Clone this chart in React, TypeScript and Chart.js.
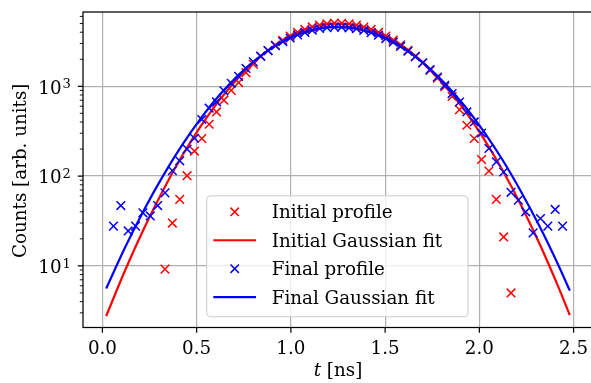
import React, { useEffect, useRef } from "react";
import { Chart, registerables } from "chart.js";

Chart.register(...registerables);

// ---- data ----
const tInitial = [
  0.332, 0.3711, 0.4102, 0.4492, 0.4883, 0.5273, 0.5664, 0.6055, 0.6445, 0.6836,
  0.7227, 0.7617, 0.8008, 0.8398, 0.8789, 0.918, 0.957, 0.9961, 1.0352, 1.0742,
  1.1133, 1.1523, 1.1914, 1.2305, 1.2695, 1.3086, 1.3477, 1.3867, 1.4258, 1.4648,
  1.5039, 1.543, 1.582, 1.6211, 1.6602, 1.6992, 1.7383, 1.7773, 1.8164, 1.8555,
  1.8945, 1.9336, 1.9727, 2.0117, 2.0508, 2.0898, 2.1289, 2.168,
];
const countsInitial = [
  9.2, 30, 55, 101, 190, 262, 378, 518, 700, 900,
  1100, 1420, 1760, 2150, 2500, 2870, 3250, 3620, 3980, 4300,
  4580, 4800, 4950, 5050, 5020, 4960, 4800, 4560, 4300, 3980,
  3630, 3260, 2890, 2510, 2150, 1810, 1500, 1230, 990, 770,
  550, 368, 262, 153, 114, 55, 21, 5.0,
];
const tFinal = [
  0.0586, 0.0977, 0.1367, 0.1758, 0.2148, 0.2539, 0.293, 0.332, 0.3711, 0.4102,
  0.4492, 0.4883, 0.5273, 0.5664, 0.6055, 0.6445, 0.6836, 0.7227, 0.7617, 0.8008,
  0.8398, 0.8789, 0.918, 0.957, 0.9961, 1.0352, 1.0742, 1.1133, 1.1523, 1.1914,
  1.2305, 1.2695, 1.3086, 1.3477, 1.3867, 1.4258, 1.4648, 1.5039, 1.543, 1.582,
  1.6211, 1.6602, 1.6992, 1.7383, 1.7773, 1.8164, 1.8555, 1.8945, 1.9336, 1.9727,
  2.0117, 2.0508, 2.0898, 2.1289, 2.168, 2.207, 2.2461, 2.2852, 2.3242, 2.3633,
  2.4023, 2.4414,
];
const countsFinal = [
  27.7, 47, 24.5, 27.7, 39, 36, 47, 65, 115, 148,
  200, 264, 427, 570, 670, 890, 1080, 1290, 1580, 1870,
  2170, 2500, 2830, 3150, 3450, 3740, 3980, 4210, 4400, 4500,
  4560, 4560, 4480, 4380, 4180, 3960, 3710, 3400, 3100, 2780,
  2460, 2140, 1830, 1535, 1270, 1026, 830, 669, 518, 401,
  302, 203, 144, 111, 66, 54, 40, 23.3, 33.7, 27.7,
  42.5, 27.7,
];
const tFit = [
  0.02, 0.12, 0.22, 0.32, 0.42, 0.52, 0.62, 0.72, 0.82, 0.92, 1.02, 1.12, 1.22,
  1.32, 1.42, 1.52, 1.62, 1.72, 1.82, 1.92, 2.02, 2.12, 2.22, 2.32, 2.42, 2.48,
];
const fitInitial = [
  2.76, 8.88, 25.9, 68.4, 164, 355, 697, 1240, 1997, 2912, 3847, 4603, 4988,
  4896, 4351, 3504, 2555, 1687, 1009, 547, 268, 119, 48.0, 17.5, 5.77, 2.83,
];
const fitFinal = [
  5.6, 16.0, 41.7, 99.4, 217, 434, 793, 1325, 2027, 2836, 3631, 4254, 4554,
  4464, 4004, 3285, 2465, 1692, 1063, 611, 321, 155, 67.9, 27.4, 10.1, 5.3,
];
const xTicks = [0, 0.5, 1, 1.5, 2, 2.5];
const yDecades = [10, 100, 1000];
const yDecadeExponents = ["1", "2", "3"];
const yMinor = [
  2, 3, 4, 5, 6, 7, 8, 9, 20, 30, 40, 50, 60, 70, 80, 90,
  200, 300, 400, 500, 600, 700, 800, 900, 2000, 3000, 4000, 5000, 6000,
];
const legendLabels = ["Initial profile", "Initial Gaussian fit", "Final profile", "Final Gaussian fit"];
const xTitleItalic = "t";
const xTitleRest = " [ns]";
const yTitle = "Counts [arb. units]";

const X_MIN = -0.103;
const X_MAX = 2.603;
const Y_MIN = 2.06;
const Y_MAX = 6720;

const RED = "#ff0000";
const BLUE = "#0000ff";
const FONT = '"DejaVu Serif", "Liberation Serif", serif';
const FS = 18.3;

function drawCross(ctx: CanvasRenderingContext2D, x: number, y: number, h: number) {
  ctx.beginPath();
  ctx.moveTo(x - h, y - h);
  ctx.lineTo(x + h, y + h);
  ctx.moveTo(x - h, y + h);
  ctx.lineTo(x + h, y - h);
  ctx.stroke();
}

const decorPlugin = {
  id: "decor",
  afterDatasetsDraw(chart: any) {
    const { ctx, chartArea: a, scales } = chart;
    const xs = scales.x;
    const ys = scales.y;
    ctx.save();
    // frame
    ctx.strokeStyle = "#000";
    ctx.lineWidth = 1.25;
    ctx.strokeRect(a.left, a.top, a.right - a.left, a.bottom - a.top);
    // major ticks
    ctx.lineWidth = 1.2;
    ctx.beginPath();
    xTicks.forEach((v) => {
      const px = xs.getPixelForValue(v);
      ctx.moveTo(px, a.bottom);
      ctx.lineTo(px, a.bottom + 5.2);
    });
    yDecades.forEach((v) => {
      const py = ys.getPixelForValue(v);
      ctx.moveTo(a.left, py);
      ctx.lineTo(a.left - 5.2, py);
    });
    ctx.stroke();
    // minor ticks
    ctx.lineWidth = 0.9;
    ctx.beginPath();
    yMinor.forEach((v) => {
      const py = ys.getPixelForValue(v);
      if (py < a.top || py > a.bottom) return;
      ctx.moveTo(a.left, py);
      ctx.lineTo(a.left - 3.2, py);
    });
    ctx.stroke();
    // y tick labels 10^n
    ctx.fillStyle = "#000";
    ctx.textBaseline = "alphabetic";
    yDecades.forEach((v, i) => {
      const py = ys.getPixelForValue(v);
      const exp = yDecadeExponents[i];
      ctx.font = `13px ${FONT}`;
      const ew = ctx.measureText(exp).width;
      const right = a.left - 12.3;
      ctx.textAlign = "left";
      ctx.fillText(exp, right - ew, py + 1.7);
      ctx.font = `${FS}px ${FONT}`;
      ctx.textAlign = "right";
      ctx.fillText("10", right - ew - 0.8, py + 7.3);
    });
    // x title
    ctx.font = `italic ${FS}px ${FONT}`;
    const tw = ctx.measureText(xTitleItalic).width;
    ctx.font = `${FS}px ${FONT}`;
    const rw = ctx.measureText(xTitleRest).width;
    const cx = (a.left + a.right) / 2;
    const x0 = cx - (tw + rw) / 2;
    ctx.textAlign = "left";
    ctx.font = `italic ${FS}px ${FONT}`;
    ctx.fillText(xTitleItalic, x0, 376);
    ctx.font = `${FS}px ${FONT}`;
    ctx.fillText(xTitleRest, x0 + tw, 376);
    // y title
    ctx.save();
    ctx.translate(26.3, (a.top + a.bottom) / 2 + 1);
    ctx.rotate(-Math.PI / 2);
    ctx.textAlign = "center";
    ctx.font = `${FS}px ${FONT}`;
    ctx.fillText(yTitle, 0, 0);
    ctx.restore();
    ctx.restore();
  },
  afterDraw(chart: any) {
    const { ctx, chartArea: a } = chart;
    ctx.save();
    const bx = a.left + 123.7;
    const by = a.top + 183.8;
    const bw = 261.3;
    const bh = 121;
    ctx.beginPath();
    ctx.roundRect(bx, by, bw, bh, 4);
    ctx.fillStyle = "rgba(255,255,255,0.8)";
    ctx.fill();
    ctx.strokeStyle = "#cccccc";
    ctx.lineWidth = 1;
    ctx.stroke();
    const colors = [RED, RED, BLUE, BLUE];
    const isLine = [false, true, false, true];
    ctx.font = `${FS}px ${FONT}`;
    ctx.textAlign = "left";
    ctx.textBaseline = "alphabetic";
    legendLabels.forEach((lab, i) => {
      const yc = by + 16 + i * 28.45;
      ctx.strokeStyle = colors[i];
      if (isLine[i]) {
        ctx.lineWidth = 2.2;
        ctx.beginPath();
        ctx.moveTo(bx + 6.6, yc);
        ctx.lineTo(bx + 49.3, yc);
        ctx.stroke();
      } else {
        ctx.lineWidth = 1.5;
        drawCross(ctx, bx + 28, yc, 4.2);
      }
      ctx.fillStyle = "#000";
      ctx.fillText(lab, bx + 65, yc + 6.65);
    });
    ctx.restore();
  },
};

export default function App() {
  const ref = useRef<HTMLCanvasElement>(null);
  useEffect(() => {
    const canvas = ref.current!;
    const pts = (xs: number[], ys: number[]) => xs.map((x, i) => ({ x, y: ys[i] }));
    const chart = new Chart(canvas, {
      type: "scatter",
      data: {
        datasets: [
          {
            label: legendLabels[0],
            data: pts(tInitial, countsInitial),
            pointStyle: "crossRot",
            pointRadius: 6.1,
            pointBorderWidth: 1.5,
            borderColor: RED,
            backgroundColor: RED,
            showLine: false,
            order: 4,
          },
          {
            type: "line",
            label: legendLabels[1],
            data: pts(tFit, fitInitial),
            borderColor: RED,
            borderWidth: 2.2,
            pointRadius: 0,
            cubicInterpolationMode: "monotone",
            fill: false,
            order: 3,
          },
          {
            label: legendLabels[2],
            data: pts(tFinal, countsFinal),
            pointStyle: "crossRot",
            pointRadius: 6.1,
            pointBorderWidth: 1.5,
            borderColor: BLUE,
            backgroundColor: BLUE,
            showLine: false,
            order: 2,
          },
          {
            type: "line",
            label: legendLabels[3],
            data: pts(tFit, fitFinal),
            borderColor: BLUE,
            borderWidth: 2.2,
            pointRadius: 0,
            cubicInterpolationMode: "monotone",
            fill: false,
            order: 1,
          },
        ] as any,
      },
      options: {
        responsive: false,
        animation: false,
        devicePixelRatio: 1,
        layout: { autoPadding: false, padding: { top: 12, right: 3, left: 0, bottom: 0 } },
        plugins: { legend: { display: false }, tooltip: { enabled: false } },
        scales: {
          x: {
            type: "linear",
            min: X_MIN,
            max: X_MAX,
            afterBuildTicks: (s: any) => {
              s.ticks = xTicks.map((v) => ({ value: v }));
            },
            afterFit: (s: any) => {
              s.height = 55.5;
              s.paddingLeft = 0;
              s.paddingRight = 0;
            },
            grid: { color: "#b0b0b0", lineWidth: 1.2, drawTicks: false },
            border: { display: false },
            ticks: {
              font: { family: FONT, size: FS },
              color: "#000",
              padding: 10.5,
              maxRotation: 0,
              autoSkip: false,
              callback: (v: any) => Number(v).toFixed(1),
            },
          },
          y: {
            type: "logarithmic",
            min: Y_MIN,
            max: Y_MAX,
            afterBuildTicks: (s: any) => {
              s.ticks = [...yMinor, ...yDecades].sort((p, q) => p - q).map((v) => ({ value: v }));
            },
            afterFit: (s: any) => {
              s.width = 83;
              s.paddingTop = 0;
              s.paddingBottom = 0;
            },
            grid: {
              color: (c: any) => (yDecades.includes(c.tick?.value) ? "#b0b0b0" : "rgba(0,0,0,0)"),
              lineWidth: 1.2,
              drawTicks: false,
            },
            border: { display: false },
            ticks: { display: false },
          },
        },
      } as any,
      plugins: [decorPlugin as any],
    });
    return () => chart.destroy();
  }, []);
  return (
    <div
      style={{
        position: "fixed",
        left: 0,
        top: 0,
        width: 591,
        height: 383,
        overflow: "hidden",
        background: "#fff",
      }}
    >
      <canvas ref={ref} width={596} height={383} style={{ display: "block", width: 596, height: 383 }} />
    </div>
  );
}
